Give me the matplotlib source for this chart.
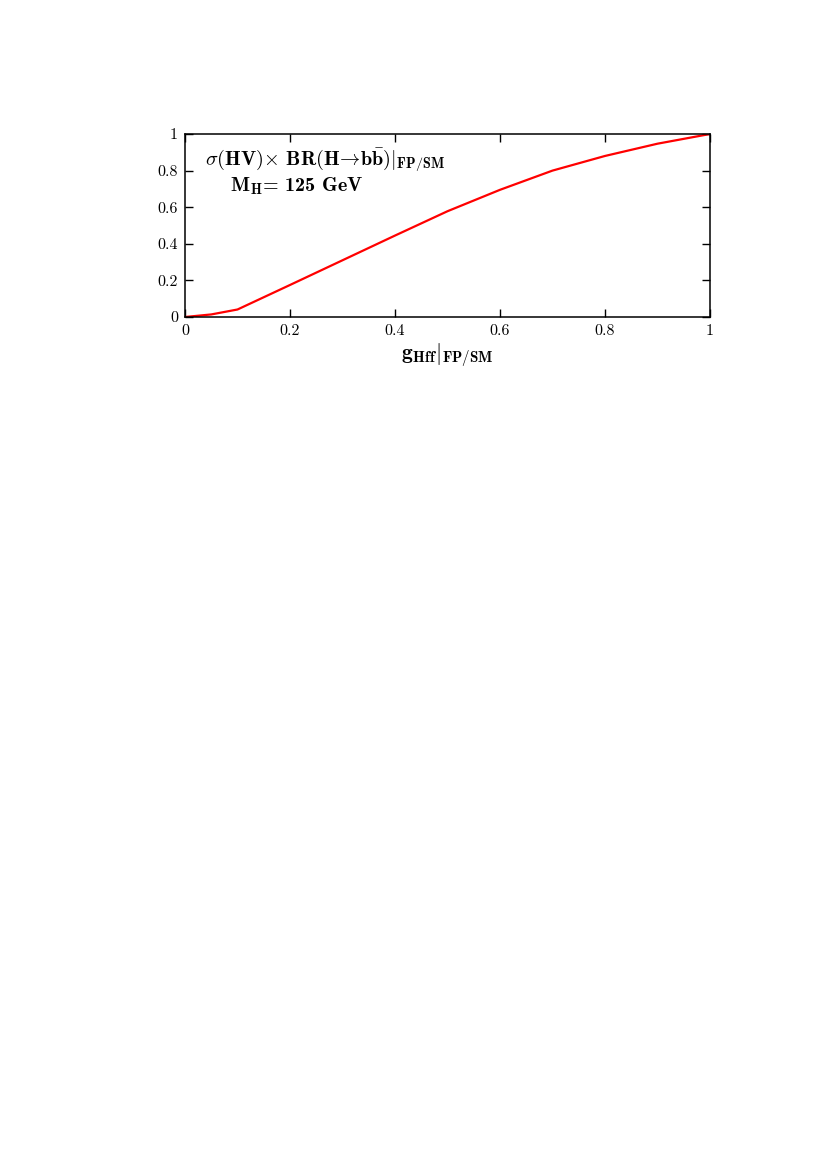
import matplotlib
matplotlib.use("Agg")
import matplotlib.pyplot as plt

plt.rcParams['mathtext.fontset'] = 'cm'
plt.rcParams['font.family'] = 'serif'
plt.rcParams['font.serif'] = ['cmr10', 'DejaVu Serif']
plt.rcParams['axes.formatter.use_mathtext'] = True

# Data
g_hff = [0.0, 0.05, 0.1, 0.2, 0.3, 0.4, 0.5, 0.6, 0.7, 0.8, 0.9, 1.0]
ratio = [0.0, 0.014, 0.041, 0.175, 0.31, 0.445, 0.578, 0.695, 0.80, 0.88, 0.947, 1.0]

ticks = [0, 0.2, 0.4, 0.6, 0.8, 1]
tick_labels = ['0', '0.2', '0.4', '0.6', '0.8', '1']

fig = plt.figure(figsize=(8.17, 11.57), dpi=100)
ax = fig.add_axes([185 / 817, 1 - 317 / 1157, 525 / 817, 183 / 1157])

ax.plot(g_hff, ratio, color='#ff0000', lw=1.6)

ax.set_xlim(0, 1)
ax.set_ylim(0, 1)
ax.set_xticks(ticks)
ax.set_yticks(ticks)
ax.set_xticklabels(tick_labels)
ax.set_yticklabels(tick_labels)
ax.tick_params(direction='in', length=6, width=1.0, labelsize=11.5,
               top=True, right=True, pad=5, colors='black')
for s in ax.spines.values():
    s.set_linewidth(1.1)

# labels inside the frame
ax.text(0.038, 0.828,
        r'$\sigma(\mathbf{HV})\!\times\,\mathbf{BR}(\mathbf{H}\!\rightarrow\!\mathbf{b}\bar{\mathbf{b}})|_{\mathbf{FP/SM}}$',
        transform=ax.transAxes, fontsize=14.5, ha='left', va='baseline')
ax.text(0.086, 0.685, r'M$_{\mathbf{H}}$= 125 GeV', family='cmb10',
        transform=ax.transAxes, fontsize=14.5, ha='left', va='baseline')

ax.set_xlabel(r'$\mathbf{g_{Hff}}|_{\mathbf{FP/SM}}$', fontsize=15.5, labelpad=3)

fig.savefig('out.png', dpi=100)
